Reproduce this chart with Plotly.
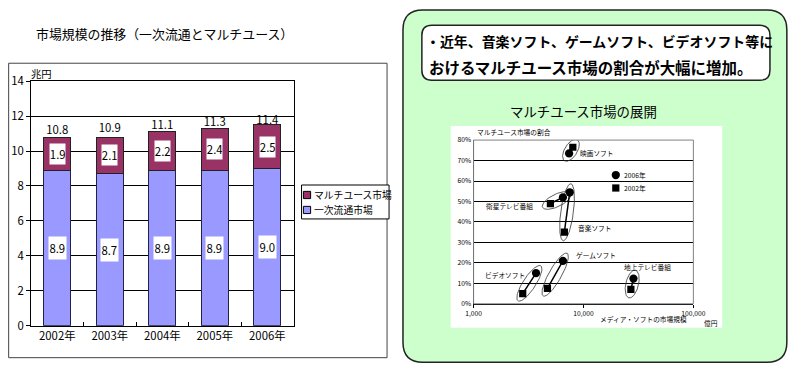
import numpy as np
import plotly.graph_objects as go

W, H = 800, 370
# The photograph shows the page with an 8px border and scaled back to 800x370,
# so layout positions (given below in target picture pixels) are mapped back.
PAD = 8
SX, SY = W / (W + 2 * PAD), H / (H + 2 * PAD)
K = (1 / SX + 1 / SY) / 2          # size compensation for fonts / markers
FONT = "Noto Sans CJK JP"


def X(t):
    return (t / SX - PAD) / W


def Y(t):
    return 1 - (t / SY - PAD) / H


def fs(v):
    return round(v * K, 2)


# ---------------- data: left stacked bar chart ----------------
years = ["2002年", "2003年", "2004年", "2005年", "2006年"]
primary_market = [8.9, 8.7, 8.9, 8.9, 9.0]      # 一次流通市場 (兆円)
multiuse_market = [1.9, 2.1, 2.2, 2.4, 2.5]     # マルチユース市場 (兆円)
total_market = [10.8, 10.9, 11.1, 11.3, 11.4]
bar_names = ["一次流通市場", "マルチユース市場"]
y_ticks = [0, 2, 4, 6, 8, 10, 12, 14]

# ---------------- data: right scatter chart ----------------
media = ["映画ソフト", "衛星テレビ番組", "音楽ソフト", "ゲームソフト", "ビデオソフト", "地上テレビ番組"]
size_2002 = [8000, 5000, 6700, 4700, 2800, 27000]      # 億円
share_2002 = [76.5, 49.0, 35.0, 7.5, 5.0, 7.0]          # %
size_2006 = [7400, 6500, 7500, 6500, 3700, 28500]
share_2006 = [73.5, 52.0, 54.5, 21.0, 15.0, 12.3]
year_names = ["2006年", "2002年"]
x_ticks = [1000, 10000, 100000]
x_ticktext = ["1,000", "10,000", "100,000"]
share_ticks = [0, 10, 20, 30, 40, 50, 60, 70, 80]

BLUE = "#9999FF"
MAROON = "#993366"

fig = go.Figure()

# stacked bars
fig.add_trace(go.Bar(x=years, y=primary_market, name=bar_names[0], xaxis="x", yaxis="y",
                     marker=dict(color=BLUE, line=dict(color="#222244", width=1)),
                     showlegend=False, hoverinfo="skip"))
fig.add_trace(go.Bar(x=years, y=multiuse_market, name=bar_names[1], xaxis="x", yaxis="y",
                     marker=dict(color=MAROON, line=dict(color="#222222", width=1)),
                     showlegend=False, hoverinfo="skip"))
fig.add_trace(go.Scatter(x=years, y=total_market, mode="text", xaxis="x", yaxis="y",
                         text=[f"{v:.1f}" for v in total_market], textposition="top center",
                         textfont=dict(size=fs(11), color="#000"), showlegend=False, hoverinfo="skip",
                         cliponaxis=False))

annotations = []
for yr, p, m in zip(years, primary_market, multiuse_market):
    annotations.append(dict(x=yr, y=p / 2, xref="x", yref="y", text=f"{p:.1f}", showarrow=False,
                            xanchor="center", yanchor="middle",
                            bgcolor="white", width=16 * K, height=21 * K, borderpad=0,
                            font=dict(size=fs(11), color="#000")))
    annotations.append(dict(x=yr, y=p + m / 2, xref="x", yref="y", text=f"{m:.1f}", showarrow=False,
                            xanchor="center", yanchor="middle",
                            bgcolor="white", width=15 * K, height=19 * K, borderpad=0,
                            font=dict(size=fs(11), color="#000")))

# ---------------- scatter chart ----------------
x2_dom = [X(476), X(697)]
y2_dom = [Y(303), Y(139)]
decade_px = (x2_dom[1] - x2_dom[0]) * W / 2.0
pct_px = (y2_dom[1] - y2_dom[0]) * H / 80.0

# ellipses around each 2002/2006 pair (computed from the data in pixel space)
ex, ey = [], []
t = np.linspace(0, 2 * np.pi, 73)
for s0, h0, s1, h1 in zip(size_2002, share_2002, size_2006, share_2006):
    u0, v0 = np.log10(s0) * decade_px, h0 * pct_px
    u1, v1 = np.log10(s1) * decade_px, h1 * pct_px
    cu, cv = (u0 + u1) / 2, (v0 + v1) / 2
    du, dv = u1 - u0, v1 - v0
    L = np.hypot(du, dv)
    th = np.arctan2(dv, du)
    a, b = L / 2 + 9, 6.5
    uu = cu + a * np.cos(t) * np.cos(th) - b * np.sin(t) * np.sin(th)
    vv = cv + a * np.cos(t) * np.sin(th) + b * np.sin(t) * np.cos(th)
    ex += list(10 ** (uu / decade_px)) + [None]
    ey += list(vv / pct_px) + [None]
fig.add_trace(go.Scatter(x=ex, y=ey, mode="lines", xaxis="x2", yaxis="y2",
                         line=dict(color="#333", width=0.8), showlegend=False, hoverinfo="skip"))

lx, ly = [], []
for s0, h0, s1, h1 in zip(size_2002, share_2002, size_2006, share_2006):
    lx += [s0, s1, None]
    ly += [h0, h1, None]
fig.add_trace(go.Scatter(x=lx, y=ly, mode="lines", xaxis="x2", yaxis="y2",
                         line=dict(color="#000", width=1.5), showlegend=False, hoverinfo="skip"))
fig.add_trace(go.Scatter(x=size_2002, y=share_2002, mode="markers", name=year_names[1],
                         xaxis="x2", yaxis="y2", marker=dict(symbol="square", size=7 * K, color="#000"),
                         showlegend=False, hoverinfo="skip"))
fig.add_trace(go.Scatter(x=size_2006, y=share_2006, mode="markers", name=year_names[0],
                         xaxis="x2", yaxis="y2", marker=dict(symbol="circle", size=8 * K, color="#000"),
                         showlegend=False, hoverinfo="skip"))

# media labels (offsets in picture pixels from the 2006 point)
label_shift = {
    "映画ソフト": (27, 0),
    "衛星テレビ番組": (-52, -8),
    "音楽ソフト": (25, -34),
    "ゲームソフト": (32, 6),
    "ビデオソフト": (-30, -2),
    "地上テレビ番組": (14, 11),
}
for name, s1, h1 in zip(media, size_2006, share_2006):
    dx, dy = label_shift[name]
    annotations.append(dict(x=np.log10(s1), y=h1, xref="x2", yref="y2", text=name, showarrow=False,
                            xanchor="center", yanchor="middle",
                            xshift=dx / SX, yshift=dy / SY, font=dict(size=fs(6.5), color="#000")))


def txt(x, y, text, size, anchor="center"):
    return dict(x=X(x), y=Y(y), xref="paper", yref="paper", text=text, showarrow=False,
                xanchor=anchor, yanchor="middle", font=dict(size=fs(size), color="#000"))


annotations += [
    txt(165, 32, "市場規模の推移（一次流通とマルチユース）", 12.5),
    txt(42, 72, "兆円", 10),
    txt(314, 194, bar_names[1], 9.5, "left"),
    txt(314, 209, bar_names[0], 9.5, "left"),
    txt(426, 40, "<b>・近年、音楽ソフト、ゲームソフト、ビデオソフト等に</b>", 13.5, "left"),
    txt(429, 66, "<b>おけるマルチユース市場の割合が大幅に増加。</b>", 15, "left"),
    txt(587, 110, "マルチユース市場の展開", 13),
    txt(477, 131, "マルチユース市場の割合", 6.5, "left"),
    txt(601, 318, "メディア・ソフトの市場規模", 6.5, "left"),
    txt(706, 322, "億円", 6.5, "left"),
    txt(625, 174, year_names[0], 6.5, "left"),
    txt(625, 187, year_names[1], 6.5, "left"),
]


# ---------------- shapes ----------------
def rrect(x0, y0, x1, y1, r):
    a, b, c, d = X(x0), X(x1), Y(y0), Y(y1)
    rx, ry = (X(x0 + r) - a), (c - Y(y0 + r))
    return (f"M {a + rx},{c} L {b - rx},{c} Q {b},{c} {b},{c - ry} "
            f"L {b},{d + ry} Q {b},{d} {b - rx},{d} "
            f"L {a + rx},{d} Q {a},{d} {a},{d + ry} "
            f"L {a},{c - ry} Q {a},{c} {a + rx},{c} Z")


def px_rect(cx, cy, half, color, kind="rect", lw=1):
    h = half * K
    return dict(type=kind, xref="paper", yref="paper", xsizemode="pixel", ysizemode="pixel",
                xanchor=X(cx), yanchor=Y(cy), x0=-h, x1=h, y0=-h, y1=h,
                line=dict(color="#000", width=lw), fillcolor=color)


shapes = [
    # left panel frame
    dict(type="rect", xref="paper", yref="paper", x0=X(8.5), x1=X(389), y0=Y(357), y1=Y(62),
         line=dict(color="#444", width=1), fillcolor="white", layer="below"),
    # green panel
    dict(type="path", xref="paper", yref="paper", path=rrect(405, 8.6, 791, 361.5, 20),
         line=dict(color="#222", width=1.5), fillcolor="#CCFFCC", layer="below"),
    # message box
    dict(type="path", xref="paper", yref="paper", path=rrect(424, 24, 774, 79, 10),
         line=dict(color="#222", width=1.5), fillcolor="white", layer="below"),
    # scatter chart background
    dict(type="rect", xref="paper", yref="paper", x0=X(453), x1=X(726), y0=Y(327), y1=Y(125),
         line=dict(width=0), fillcolor="white", layer="below"),
    # scatter plot area border
    dict(type="rect", xref="x2 domain", yref="y2 domain", x0=0, x1=1, y0=0, y1=1,
         line=dict(color="#808080", width=1)),
    # left legend box and swatches
    dict(type="rect", xref="paper", yref="paper", x0=X(303), x1=X(391), y0=Y(218), y1=Y(184),
         line=dict(color="#000", width=1), fillcolor="white"),
    px_rect(308.5, 194, 3.5, MAROON),
    px_rect(308.5, 209, 3.5, BLUE),
    # scatter legend markers
    px_rect(619, 174, 4, "#000", "circle", 0),
    px_rect(619, 187, 3.5, "#000", "rect", 0),
]

fig.update_layout(
    width=W, height=H, autosize=False,
    margin=dict(l=0, r=0, t=0, b=0),
    paper_bgcolor="white", plot_bgcolor="rgba(0,0,0,0)",
    font=dict(family=FONT, color="#000"),
    barmode="stack", bargap=0.49,
    showlegend=False,
    xaxis=dict(domain=[X(31), X(295)], anchor="y", type="category",
               showline=True, linecolor="#000", linewidth=1, mirror=True,
               ticks="inside", tickson="boundaries", ticklen=4, tickcolor="#000",
               tickfont=dict(size=fs(11)), showgrid=False, fixedrange=True),
    yaxis=dict(domain=[Y(325), Y(80)], anchor="x", range=[0, 14], tickvals=y_ticks,
               showgrid=True, gridcolor="#000", gridwidth=1, zeroline=False,
               showline=True, linecolor="#000", linewidth=1, mirror=True,
               ticks="outside", ticklen=4, tickcolor="#000", tickfont=dict(size=fs(11)), fixedrange=True),
    xaxis2=dict(domain=x2_dom, anchor="y2", type="log", range=[3, 5],
                tickvals=x_ticks, ticktext=x_ticktext, showgrid=False, zeroline=False,
                showline=True, linecolor="#000", linewidth=1,
                ticks="outside", ticklen=3, tickcolor="#000", tickfont=dict(size=fs(6.5)), fixedrange=True),
    yaxis2=dict(domain=y2_dom, anchor="x2", range=[0, 80], tickvals=share_ticks,
                ticktext=[f"{v}%" for v in share_ticks],
                showgrid=True, gridcolor="#000", gridwidth=1, zeroline=False,
                showline=True, linecolor="#000", linewidth=1,
                ticks="", tickfont=dict(size=fs(6.5)), fixedrange=True),
    annotations=annotations,
    shapes=shapes,
)

fig.write_html("out.html", config={"displayModeBar": False},
               post_script="document.body.style.margin='0';document.body.style.overflow='hidden';")
